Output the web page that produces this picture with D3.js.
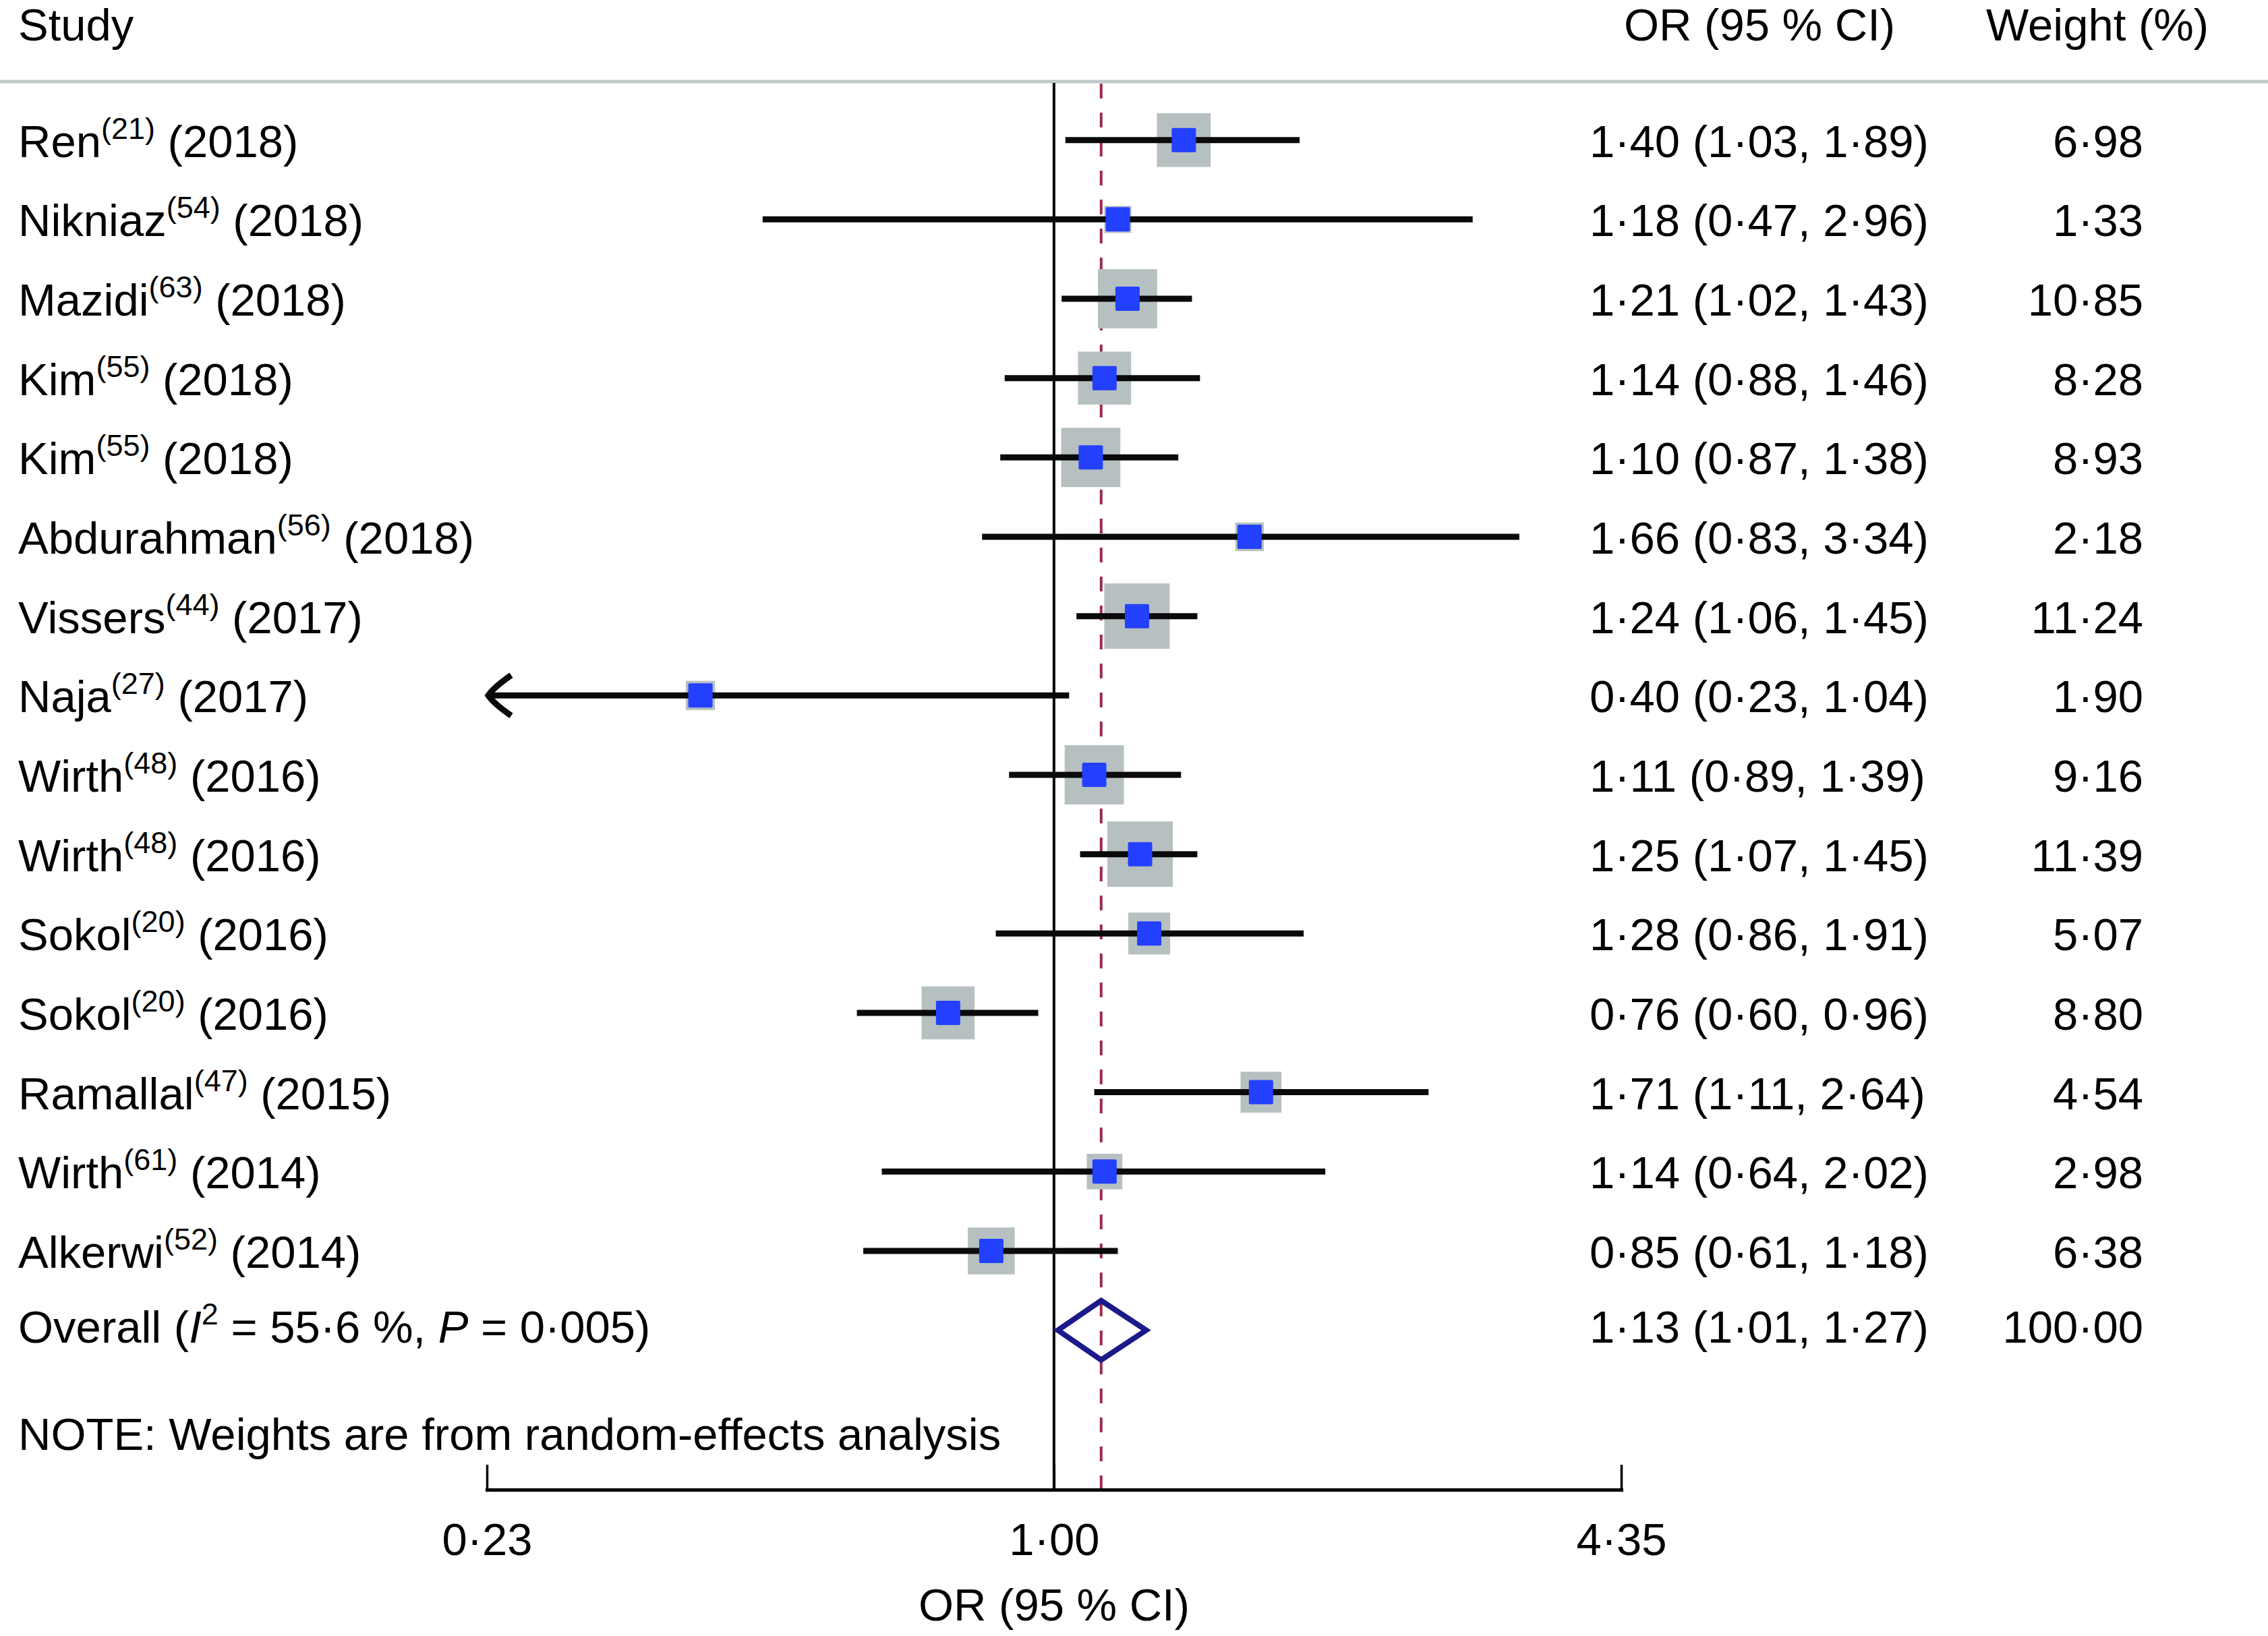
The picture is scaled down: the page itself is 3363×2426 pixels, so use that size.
<!DOCTYPE html>
<html>
<head>
<meta charset="utf-8">
<script src="https://cdn.jsdelivr.net/npm/d3@7"></script>
<style>
  html, body { margin: 0; padding: 0; background: #fff; }
  svg { display: block; }
  text { font-family: "Liberation Sans", Arial, Helvetica, sans-serif; fill: #000; }
</style>
</head>
<body>
<svg id="chart" width="3363" height="2426"></svg>
<script>
// ---------- data ----------
const names   = ["Ren", "Nikniaz", "Mazidi", "Kim", "Kim", "Abdurahman", "Vissers", "Naja",
                 "Wirth", "Wirth", "Sokol", "Sokol", "Ramallal", "Wirth", "Alkerwi"];
const refs    = ["21", "54", "63", "55", "55", "56", "44", "27", "48", "48", "20", "20", "47", "61", "52"];
const years   = ["2018", "2018", "2018", "2018", "2018", "2018", "2017", "2017",
                 "2016", "2016", "2016", "2016", "2015", "2014", "2014"];
const orValues = [1.40, 1.18, 1.21, 1.14, 1.10, 1.66, 1.24, 0.40, 1.11, 1.25, 1.28, 0.76, 1.71, 1.14, 0.85];
const ciLower  = [1.03, 0.47, 1.02, 0.88, 0.87, 0.83, 1.06, 0.23, 0.89, 1.07, 0.86, 0.60, 1.11, 0.64, 0.61];
const ciUpper  = [1.89, 2.96, 1.43, 1.46, 1.38, 3.34, 1.45, 1.04, 1.39, 1.45, 1.91, 0.96, 2.64, 2.02, 1.18];
const weights  = [6.98, 1.33, 10.85, 8.28, 8.93, 2.18, 11.24, 1.90, 9.16, 11.39, 5.07, 8.80, 4.54, 2.98, 6.38];
// relative box areas as drawn in the figure
const boxWeights = [7.1, 1.8, 8.6, 6.9, 8.6, 2.0, 10.5, 2.1, 8.6, 10.5, 4.3, 6.9, 4.1, 3.1, 5.4];
const overall = { or: 1.13, lower: 1.01, upper: 1.27, weight: 100.00, i2: "55·6", p: "0·005" };
const axisTicks = [0.23, 1.00, 4.35];
const headers = { study: "Study", or: "OR (95 % CI)", weight: "Weight (%)" };
const noteText = "NOTE: Weights are from random-effects analysis";
const axisTitle = "OR (95 % CI)";

// ---------- setup ----------
const W = 3363, H = 2426;
const FS = 67, SUP = 45;
const svg = d3.select("#chart");
svg.append("rect").attr("width", W).attr("height", H).attr("fill", "#fff");

const fmt = v => d3.format(".2f")(v).replace(".", "\u00B7");

const x = d3.scaleLog().domain([axisTicks[0], axisTicks[2]]).range([722, 2404]);
const y = d3.scaleLinear().domain([0, 15]).range([207.7, 1972.6]);
const boxSize = d3.scaleSqrt().domain([0, 10.5]).range([0, 97]);

const headerLineY = 121, axisY = 2209;
const colLabel = 27, colOR = 2357, colWeightEnd = 3178;

const rows = names.map((n, i) => ({
  i, name: n, ref: refs[i], year: years[i],
  or: orValues[i], lo: ciLower[i], hi: ciUpper[i], w: weights[i], bw: boxWeights[i]
}));

// ---------- header ----------
svg.append("text").attr("x", colLabel).attr("y", 60).attr("font-size", FS).text(headers.study);
svg.append("text").attr("x", 2408).attr("y", 60).attr("font-size", FS).text(headers.or);
svg.append("text").attr("x", 2945).attr("y", 60).attr("font-size", FS).text(headers.weight);
svg.append("line").attr("x1", 0).attr("x2", W).attr("y1", headerLineY).attr("y2", headerLineY)
  .attr("stroke", "#bfc9c9").attr("stroke-width", 5);

// ---------- reference lines ----------
svg.append("line").attr("x1", x(1)).attr("x2", x(1)).attr("y1", headerLineY + 2).attr("y2", axisY)
  .attr("stroke", "#000").attr("stroke-width", 4);
svg.append("line").attr("x1", x(overall.or)).attr("x2", x(overall.or))
  .attr("y1", headerLineY + 3).attr("y2", axisY)
  .attr("stroke", "#9e2b4a").attr("stroke-width", 4).attr("stroke-dasharray", "22,21");

// ---------- study rows ----------
const g = svg.append("g");
const row = g.selectAll("g.row").data(rows).join("g").attr("class", "row");

// grey weight boxes
row.append("rect")
  .attr("x", d => x(d.or) - boxSize(d.bw) / 2)
  .attr("y", d => y(d.i) - boxSize(d.bw) / 2)
  .attr("width", d => boxSize(d.bw)).attr("height", d => boxSize(d.bw))
  .attr("fill", "#b6c0c0");

// CI lines
row.append("line")
  .attr("x1", d => d.lo <= axisTicks[0] ? x(axisTicks[0]) + 4 : x(d.lo))
  .attr("x2", d => x(d.hi))
  .attr("y1", d => y(d.i)).attr("y2", d => y(d.i))
  .attr("stroke", "#0a0a0a").attr("stroke-width", 9);

// arrow for truncated CI
row.filter(d => d.lo <= axisTicks[0]).append("path")
  .attr("d", d => {
    const x0 = x(axisTicks[0]), yy = y(d.i);
    return `M${x0 + 36},${yy - 30} Q${x0 + 10},${yy - 12} ${x0 + 2},${yy} Q${x0 + 10},${yy + 12} ${x0 + 36},${yy + 30}`;
  })
  .attr("fill", "none").attr("stroke", "#0a0a0a").attr("stroke-width", 9);

// blue point markers
row.append("rect")
  .attr("x", d => x(d.or) - 18).attr("y", d => y(d.i) - 18)
  .attr("width", 36).attr("height", 36).attr("rx", 2)
  .attr("fill", "#2440ff");

// labels
const lab = row.append("text").attr("x", colLabel).attr("y", d => y(d.i) + 25).attr("font-size", FS);
lab.append("tspan").text(d => d.name);
lab.append("tspan").attr("font-size", SUP).attr("dy", -27).text(d => "(" + d.ref + ")");
lab.append("tspan").attr("dy", 27).text(d => "\u00A0(" + d.year + ")");

row.append("text").attr("x", colOR).attr("y", d => y(d.i) + 25).attr("font-size", FS)
  .text(d => `${fmt(d.or)} (${fmt(d.lo)}, ${fmt(d.hi)})`);
row.append("text").attr("x", colWeightEnd).attr("y", d => y(d.i) + 25).attr("font-size", FS)
  .attr("text-anchor", "end").text(d => fmt(d.w));

// ---------- overall ----------
const yo = y(15);
const hd = 44;
svg.append("path")
  .attr("d", `M${x(overall.lower)},${yo} L${x(overall.or)},${yo - hd} L${x(overall.upper)},${yo} L${x(overall.or)},${yo + hd} Z`)
  .attr("fill", "none").attr("stroke", "#1a1a8a").attr("stroke-width", 8).attr("stroke-linejoin", "miter");

const ot = svg.append("text").attr("x", colLabel).attr("y", yo + 18).attr("font-size", FS);
ot.append("tspan").text("Overall (");
ot.append("tspan").attr("font-style", "italic").text("I");
ot.append("tspan").attr("font-size", SUP).attr("dy", -27).text("2");
ot.append("tspan").attr("dy", 27).text(`\u00A0= ${overall.i2} %, `);
ot.append("tspan").attr("font-style", "italic").text("P");
ot.append("tspan").text(` = ${overall.p})`);

svg.append("text").attr("x", colOR).attr("y", yo + 18).attr("font-size", FS)
  .text(`${fmt(overall.or)} (${fmt(overall.lower)}, ${fmt(overall.upper)})`);
svg.append("text").attr("x", colWeightEnd).attr("y", yo + 18).attr("font-size", FS)
  .attr("text-anchor", "end").text(fmt(overall.weight));

// note
svg.append("text").attr("x", colLabel).attr("y", 2150).attr("font-size", FS).text(noteText);

// ---------- axis ----------
const axis = d3.axisBottom(x).tickValues(axisTicks).tickFormat(fmt)
  .tickSizeInner(-37).tickSizeOuter(0).tickPadding(49);
const ax = svg.append("g").attr("transform", `translate(0,${axisY})`).call(axis);
ax.select(".domain").attr("stroke", "#000").attr("stroke-width", 5).attr("stroke-linecap", "square");
ax.selectAll(".tick line").attr("stroke", "#000").attr("stroke-width", 3.5);
ax.selectAll(".tick text").attr("font-size", FS).attr("font-family", "Liberation Sans, Arial, sans-serif").attr("fill", "#000");

svg.append("text").attr("x", (x.range()[0] + x.range()[1]) / 2).attr("y", 2403)
  .attr("text-anchor", "middle").attr("font-size", FS).text(axisTitle);
</script>
</body>
</html>
